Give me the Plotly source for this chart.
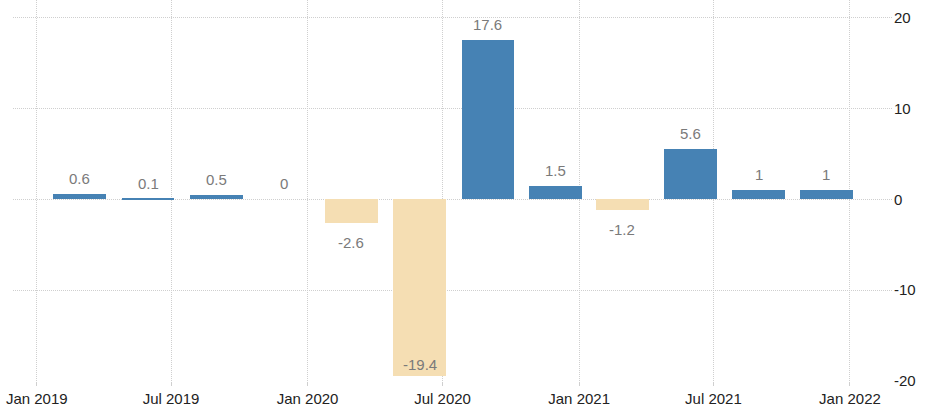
import plotly.graph_objects as go

# Data (quarterly, bars centred at the end of the middle month of each quarter)
dates = ["2019-02-28", "2019-05-31", "2019-08-31", "2019-11-30",
         "2020-02-29", "2020-05-31", "2020-08-31", "2020-11-30",
         "2021-02-28", "2021-05-31", "2021-08-31", "2021-11-30"]
values = [0.6, 0.1, 0.5, 0, -2.6, -19.4, 17.6, 1.5, -1.2, 5.6, 1, 1]
labels = ["0.6", "0.1", "0.5", "0", "-2.6", "-19.4", "17.6", "1.5", "-1.2", "5.6", "1", "1"]

y_min, y_top = -20, 21.98
ytickvals = [-20, -10, 0, 10, 20]
yticktext = ["-20", "-10", "0", "10", "20"]

POS = "#4682B4"
NEG = "#F5DEB3"
colors = [POS if v >= 0 else NEG for v in values]

FONT = "Liberation Sans, Arial, sans-serif"
DAY_MS = 86400000
GRID = "#cfcfcf"

fig = go.Figure()
fig.add_trace(go.Bar(
    x=dates, y=values, width=[71 * DAY_MS] * len(values),
    marker=dict(color=colors, line=dict(width=0)),
    hoverinfo="x+y", showlegend=False,
))

annotations = []
for d, v, t in zip(dates, values, labels):
    if v >= 0:
        annotations.append(dict(x=d, y=v, text=t, showarrow=False,
                                yanchor="bottom", yshift=5))
    elif v < y_min + 3:
        annotations.append(dict(x=d, y=v, text=t, showarrow=False,
                                yanchor="bottom", yshift=1))
    else:
        annotations.append(dict(x=d, y=v, text=t, showarrow=False,
                                yanchor="top", yshift=-9))
for a in annotations:
    a.update(xref="x", yref="y", font=dict(family=FONT, size=15, color="#7a7a7a"))

fig.update_layout(
    width=940, height=417,
    margin=dict(l=13, r=47, t=0, b=36),
    paper_bgcolor="white", plot_bgcolor="white",
    bargap=0,
    annotations=annotations,
    font=dict(family=FONT, size=15, color="#222222"),
    xaxis=dict(
        type="date",
        range=["2018-11-30", "2022-02-28"],
        tick0="2019-01-01", dtick="M6", tickformat="%b %Y",
        showgrid=True, gridcolor=GRID, griddash="1px,1px", gridwidth=1,
        ticks="outside", ticklen=4, tickcolor=GRID,
        showline=False, zeroline=False,
        tickfont=dict(family=FONT, size=15, color="#222222"),
        fixedrange=True,
    ),
    yaxis=dict(
        side="right",
        range=[y_min, y_top],
        tickvals=ytickvals, ticktext=yticktext,
        showgrid=True, gridcolor=GRID, griddash="1px,1px", gridwidth=1,
        zeroline=False, showline=False,
        tickfont=dict(family=FONT, size=15, color="#222222"),
        fixedrange=True,
    ),
)

fig.write_html("out.html")
